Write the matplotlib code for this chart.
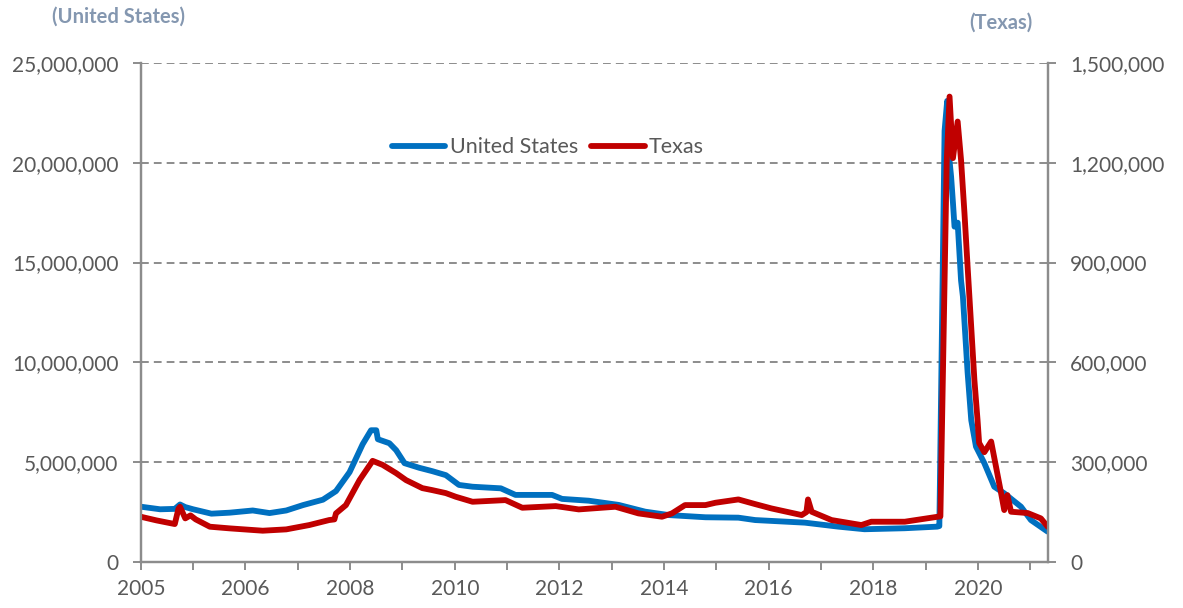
import matplotlib.pyplot as plt
from matplotlib.ticker import FuncFormatter

plt.rcParams['font.family'] = ['Lato', 'DejaVu Sans']

# weekly continued claims (decimal year, value)
us_t = [2005.0, 2005.37, 2005.65, 2005.75, 2005.85, 2006.0, 2006.35, 2006.7, 2007.14, 2007.46,
        2007.78, 2008.1, 2008.48, 2008.73, 2008.99, 2009.24, 2009.4, 2009.5, 2009.53, 2009.75,
        2009.88, 2010.04, 2010.32, 2010.57, 2010.83, 2011.08, 2011.34, 2011.88, 2012.16, 2012.86,
        2013.05, 2013.56, 2014.13, 2014.64, 2015.09, 2015.79, 2016.42, 2016.74, 2017.69, 2018.33,
        2018.83, 2019.6, 2020.22, 2020.26, 2020.36, 2020.41, 2020.455, 2020.485, 2020.52, 2020.55,
        2020.61, 2020.675, 2020.71, 2020.80, 2020.87, 2020.96, 2021.12, 2021.31, 2021.50, 2021.82,
        2022.01, 2022.33]
us_claims = [2.77, 2.64, 2.66, 2.88, 2.75, 2.64, 2.42, 2.47, 2.58, 2.45,
             2.58, 2.85, 3.12, 3.55, 4.5, 5.9, 6.6, 6.6, 6.15, 5.95,
             5.6, 4.95, 4.72, 4.55, 4.35, 3.86, 3.77, 3.69, 3.36, 3.36,
             3.16, 3.07, 2.86, 2.52, 2.35, 2.24, 2.22, 2.1, 1.97, 1.77,
             1.64, 1.69, 1.77, 1.80, 21.6, 23.1, 20.1, 19.3, 18.0, 16.8,
             17.0, 14.1, 13.3, 9.5, 7.1, 5.78, 4.95, 3.77, 3.44, 2.77,
             2.1, 1.52]  # millions

tx_t = [2005.0, 2005.3, 2005.65, 2005.72, 2005.75, 2005.85, 2005.95, 2006.05, 2006.32, 2006.7,
        2007.33, 2007.78, 2008.22, 2008.6, 2008.7, 2008.73, 2008.92, 2009.18, 2009.43, 2009.62,
        2009.88, 2010.07, 2010.38, 2010.57, 2010.83, 2011.02, 2011.34, 2011.97, 2012.29, 2012.93,
        2013.37, 2014.07, 2014.51, 2014.96, 2015.15, 2015.4, 2015.79, 2015.98, 2016.42, 2016.74,
        2017.05, 2017.63, 2017.72, 2017.75, 2017.82, 2018.2, 2018.77, 2018.96, 2019.6, 2020.23,
        2020.28, 2020.40, 2020.455, 2020.52, 2020.61, 2020.675, 2020.74, 2020.80, 2020.93, 2020.99,
        2021.02, 2021.12, 2021.25, 2021.44, 2021.50, 2021.56, 2021.63, 2021.95, 2022.2, 2022.33]
tx_claims = [136, 125, 114, 160, 166, 131, 140, 128, 106, 101,
             94, 98, 111, 126, 128, 146, 171, 246, 304, 292,
             267, 246, 222, 216, 207, 196, 181, 186, 163, 168,
             158, 166, 146, 136, 146, 171, 171, 178, 188, 174,
             161, 141, 150, 188, 151, 126, 111, 121, 121, 136,
             137, 1200, 1399, 1214, 1324, 1208, 1049, 888, 547, 427,
             358, 330, 362, 207, 156, 201, 151, 147, 131, 106]  # thousands

xtick_pos = list(range(2005, 2023))
xtick_lbl = ['2005', '', '2006', '', '2008', '', '2010', '', '2012', '', '2014', '',
             '2016', '', '2018', '', '2020', '']

blue = '#0070C0'
red = '#C00000'
axis_gray = '#8C8C8C'
text_gray = '#595959'
title_col = '#8497B0'

fig = plt.figure(figsize=(11.83, 6.08), dpi=100)
ax = fig.add_axes([0.119, 0.0757, 0.7666, 0.8207])
ax2 = ax.twinx()

l1, = ax.plot(us_t, [v * 1e6 for v in us_claims], color=blue, lw=4.2, label='United States',
              solid_capstyle='round', solid_joinstyle='round')
l2, = ax2.plot(tx_t, [v * 1e3 for v in tx_claims], color=red, lw=4.2, label='Texas',
               solid_capstyle='round', solid_joinstyle='round')

ax.set_xlim(2005, 2022.33)
ax.set_ylim(0, 25e6)
ax2.set_ylim(0, 1.5e6)
ax.set_yticks(range(0, 25000001, 5000000))
ax2.set_yticks(range(0, 1500001, 300000))
fmt = FuncFormatter(lambda v, p: f'{int(v):,}')
ax.yaxis.set_major_formatter(fmt)
ax2.yaxis.set_major_formatter(fmt)
ax.set_xticks(xtick_pos)
ax.set_xticklabels(xtick_lbl)

ax.yaxis.grid(True, color=axis_gray, linestyle=(0, (4, 2.6)), lw=1.4)
ax.set_axisbelow(True)

for a in (ax, ax2):
    a.spines['top'].set_visible(False)
    for s in ('left', 'right', 'bottom'):
        a.spines[s].set_color(axis_gray)
        a.spines[s].set_linewidth(1.6)
    a.tick_params(colors=axis_gray, labelcolor=text_gray, labelsize=15,
                  length=6, width=1.4, direction='out', pad=10)
ax.tick_params(axis='x', pad=6)

fig.text(0.100, 0.972, '(United States)', color=title_col, fontsize=14.5,
         fontweight='bold', ha='center', va='center')
fig.text(0.846, 0.963, '(Texas)', color=title_col, fontsize=14.5,
         fontweight='bold', ha='center', va='center')

fig.legend(handles=[l1, l2], loc='center', bbox_to_anchor=(0.463, 0.758), ncol=2,
           frameon=False, fontsize=15.5, handlelength=2.5, handletextpad=0.2,
           columnspacing=0.6, labelcolor=text_gray)

fig.savefig('out.png', dpi=100)
